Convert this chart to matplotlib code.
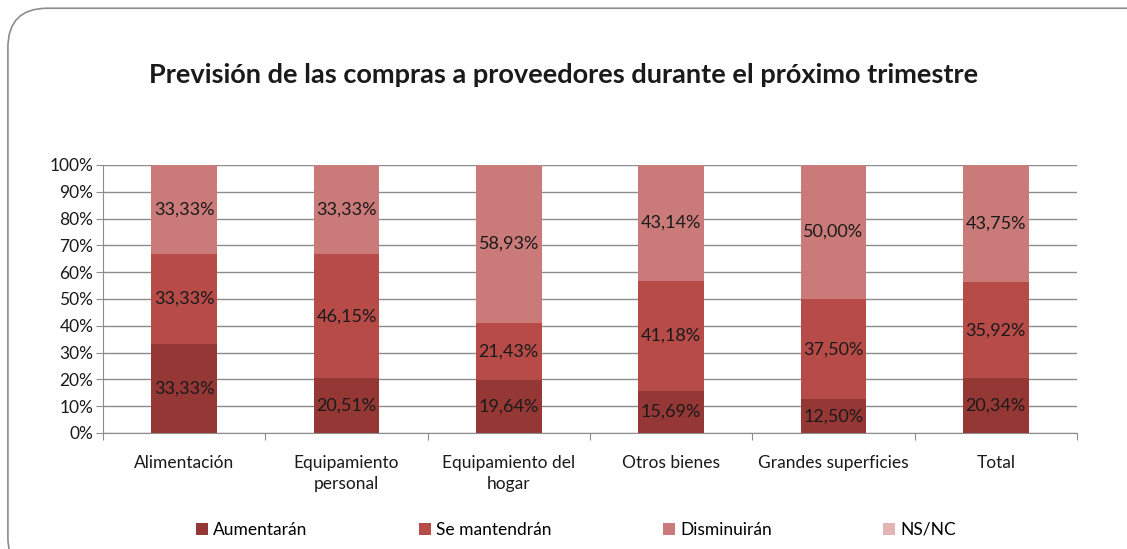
#!/usr/bin/env python3
"""Stacked percentage bars: previsión de compras a proveedores."""

import matplotlib

matplotlib.use("Agg")
import matplotlib.pyplot as plt  # noqa: E402
from matplotlib.patches import FancyBboxPatch  # noqa: E402
from matplotlib.ticker import PercentFormatter  # noqa: E402

categories = [
    "Alimentación",
    "Equipamiento\npersonal",
    "Equipamiento del\nhogar",
    "Otros bienes",
    "Grandes superficies",
    "Total",
]
aumentaran = [33.33, 20.51, 19.64, 15.69, 12.50, 20.34]
se_mantendran = [33.33, 46.15, 21.43, 41.18, 37.50, 35.92]
disminuiran = [33.33, 33.33, 58.93, 43.14, 50.00, 43.75]
ns_nc = [0, 0, 0, 0, 0, 0]

series_names = ["Aumentarán", "Se mantendrán", "Disminuirán", "NS/NC"]
colors = ["#953735", "#B64B48", "#CA7B79", "#E2B5B4"]

plt.rcParams["font.family"] = ["Lato", "DejaVu Sans"]

fig = plt.figure(figsize=(11.27, 5.49), dpi=100)
frame = FancyBboxPatch(
    (0.007, -0.05), 1.05, 1.035,
    boxstyle="round,pad=0,rounding_size=0.035",
    transform=fig.transFigure, facecolor="white", edgecolor="#8c8c8c",
    linewidth=1.2, mutation_aspect=1127 / 549, zorder=-5,
)
fig.patches.append(frame)

ax = fig.add_axes([0.0914, 0.2113, 0.8642, 0.4882])
ax.patch.set_alpha(0)
x = list(range(len(categories)))
bottom = [0.0] * len(categories)
for name, vals, color in zip(series_names, [aumentaran, se_mantendran, disminuiran, ns_nc], colors):
    ax.bar(x, vals, width=0.405, bottom=bottom, color=color, label=name, zorder=2)
    for xi, b, v in zip(x, bottom, vals):
        if v > 0:
            ax.text(xi, b + v / 2, f"{v:.2f}%".replace(".", ","), ha="center", va="center",
                    fontsize=13, color="#1a1a1a", zorder=3)
    bottom = [b + v for b, v in zip(bottom, vals)]

ax.set_xlim(-0.5, len(categories) - 0.5)
ax.set_ylim(0, 100)
ax.set_yticks(range(0, 101, 10))
ax.yaxis.set_major_formatter(PercentFormatter(decimals=0))
ax.grid(axis="y", color="#8c8c8c", linewidth=1, zorder=0)
ax.set_axisbelow(True)

ax.set_xticks([i - 0.5 for i in range(len(categories) + 1)])
ax.set_xticklabels([])
ax.set_xticks(x, minor=True)
ax.set_xticklabels(categories, minor=True, fontsize=12.5, color="#1a1a1a", linespacing=1.35)
ax.tick_params(axis="x", which="minor", length=0, pad=16)
ax.tick_params(axis="x", which="major", length=5, color="#8c8c8c", direction="out")
ax.tick_params(axis="y", length=5, color="#8c8c8c", labelsize=12.5, labelcolor="#1a1a1a", pad=2)

for side in ("top", "right"):
    ax.spines[side].set_visible(False)
for side in ("left", "bottom"):
    ax.spines[side].set_color("#8c8c8c")

fig.text(0.5, 0.863, "Previsión de las compras a proveedores durante el próximo trimestre",
         ha="center", va="center", fontsize=19.5, fontweight="bold", color="#1a1a1a")

fig.legend(loc="center", bbox_to_anchor=(0.511, 0.035), ncol=4, frameon=False,
           fontsize=12.5, handlelength=0.7, handleheight=0.7, handletextpad=0.3,
           columnspacing=6.4)

fig.savefig("out.png", dpi=100)
